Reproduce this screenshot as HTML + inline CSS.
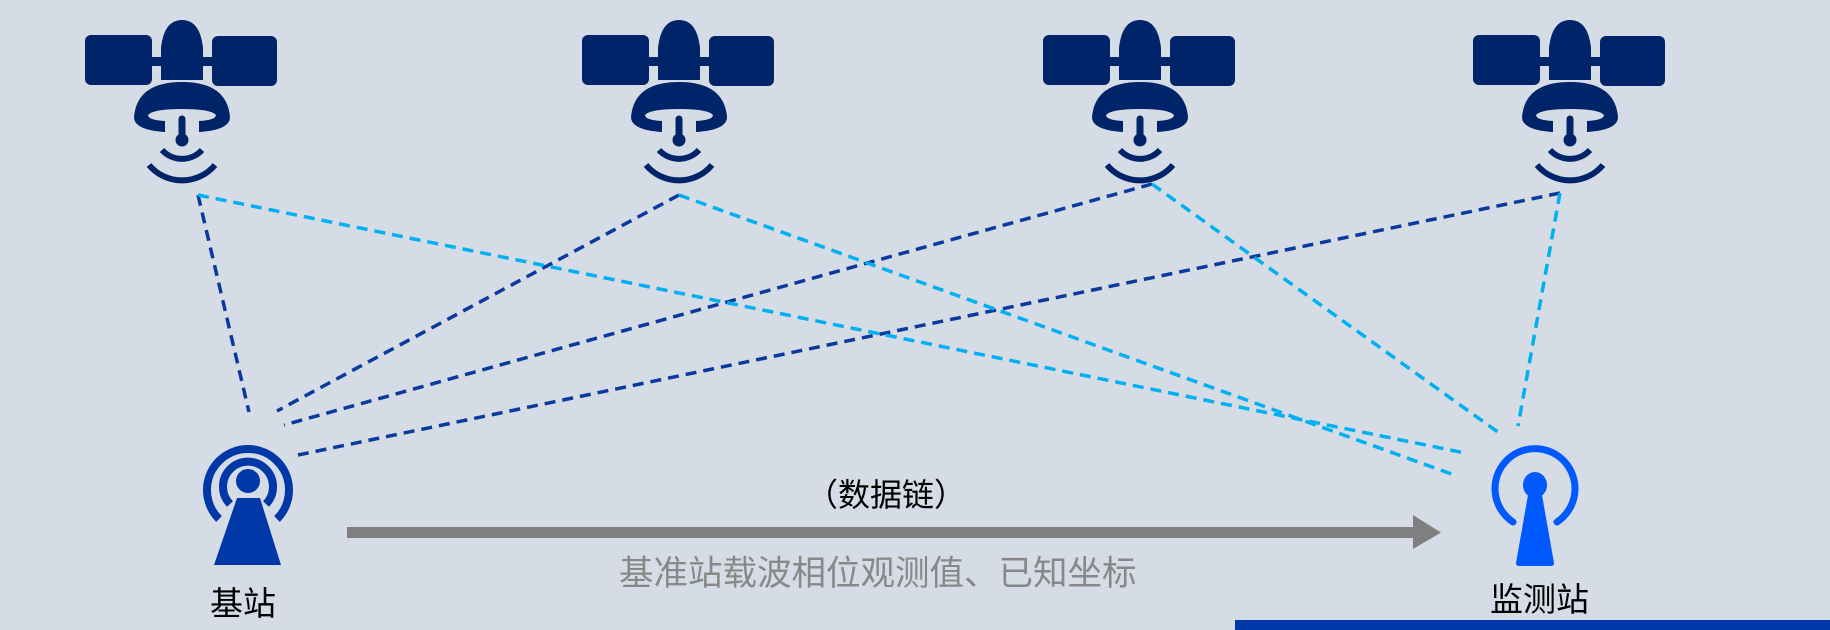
<!DOCTYPE html>
<html><head><meta charset="utf-8"><style>
html,body{margin:0;padding:0;}
body{width:1830px;height:630px;background:#D6DCE5;overflow:hidden;position:relative;font-family:"Liberation Sans","Noto Sans CJK SC",sans-serif;}
.t{position:absolute;white-space:nowrap;line-height:1;font-family:"Noto Sans CJK SC",sans-serif;}
</style></head><body>
<svg width="1830" height="630" style="position:absolute;left:0;top:0">
<defs>
<g id="sat" fill="#002469">
<rect x="85" y="35" width="67" height="50" rx="6"/>
<rect x="212" y="36" width="65" height="50" rx="6"/>
<rect x="150" y="57" width="64" height="9"/>
<path d="M161,80 L161,48 Q164,20 182,20 Q200,20 203,48 L203,80 Z"/>
<path d="M134,117 Q137,82 182,82 Q227,82 230,117 Q230,130 199,132 L199,121 Q216,120 216,115 Q211,109 182,109 Q153,109 148,115 Q148,120 165,121 L165,132 Q134,130 134,117 Z"/>
<line x1="182" y1="119" x2="182" y2="139" stroke="#002469" stroke-width="7" stroke-linecap="round"/>
<circle cx="182" cy="140" r="6.5"/>
<path d="M162,150 A27,27 0 0 0 202,150" fill="none" stroke="#002469" stroke-width="6"/>
<path d="M149,165 A43,43 0 0 0 215,165" fill="none" stroke="#002469" stroke-width="6"/>
</g>
</defs>
<use href="#sat"/>
<use href="#sat" transform="translate(497,0)"/>
<use href="#sat" transform="translate(958,0)"/>
<use href="#sat" transform="translate(1388,0)"/>
<g stroke="#0A3A9E" stroke-width="3.5" stroke-dasharray="11,7" fill="none">
<line x1="198" y1="195" x2="249" y2="412"/>
<line x1="679" y1="195" x2="277" y2="411"/>
<line x1="1152" y1="184" x2="284" y2="425"/>
<line x1="1560" y1="193" x2="298" y2="455"/>
</g>
<g stroke="#00B0F0" stroke-width="3.5" stroke-dasharray="11,7" fill="none">
<line x1="198" y1="195" x2="1465" y2="453"/>
<line x1="679" y1="195" x2="1457" y2="476"/>
<line x1="1152" y1="184" x2="1502" y2="435"/>
<line x1="1560" y1="193" x2="1518" y2="426"/>
</g>
<g fill="#0038A8">
<path d="M219,519 A41,41 0 1 1 277,519" fill="none" stroke="#0038A8" stroke-width="8"/>
<path d="M230,504 A25,25 0 1 1 266,504" fill="none" stroke="#0038A8" stroke-width="8"/>
<circle cx="248" cy="481" r="12"/>
<path d="M237,498 L260,498 L281,565 L214,565 Z"/>
</g>
<g fill="#0059FF">
<path d="M1513,522 A40,40 0 1 1 1557,522" fill="none" stroke="#0059FF" stroke-width="7" stroke-linecap="round"/>
<ellipse cx="1535" cy="485" rx="12" ry="13"/>
<path d="M1528,495 L1542,495 L1554,563 Q1554,566 1551,566 L1519,566 Q1516,566 1516,563 Z"/>
</g>
<rect x="347" y="527" width="1070" height="11" fill="#7F7F7F"/>
<path d="M1413,515 L1441,532.5 L1413,549 Z" fill="#7F7F7F"/>
<rect x="1235" y="620" width="595" height="10" fill="#0038A8"/>
</svg>
<div class="t" style="left:806px;top:477px;font-size:32px;color:#000">（数据链）</div>
<div class="t" style="left:619px;top:553px;font-size:34.5px;color:#888">基准站载波相位观测值、已知坐标</div>
<div class="t" style="left:210px;top:585px;font-size:33px;color:#000">基站</div>
<div class="t" style="left:1490px;top:581px;font-size:33px;color:#000">监测站</div>
</body></html>
